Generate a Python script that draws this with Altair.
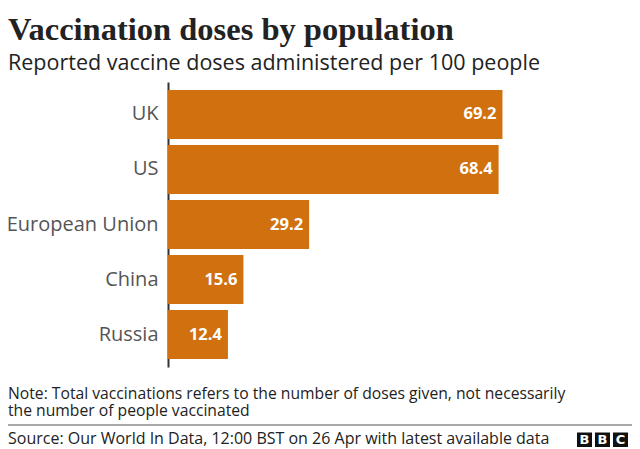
import altair as alt
import pandas as pd

countries = ["UK", "US", "European Union", "China", "Russia"]
doses = [69.2, 68.4, 29.2, 15.6, 12.4]
labels = ["69.2", "68.4", "29.2", "15.6", "12.4"]

title_text = "Vaccination doses by population"
subtitle_text = "Reported vaccine doses administered per 100 people"
note_lines = ["Note: Total vaccinations refers to the number of doses given, not necessarily",
              "the number of people vaccinated"]
source_text = "Source: Our World In Data, 12:00 BST on 26 Apr with latest available data"
logo_letters = ["B", "B", "C"]

df = pd.DataFrame({"country": countries, "doses": doses, "label": labels})

W, H = 348, 285
ORANGE = "#D1700E"
SANS = "Open Sans"

y_enc = alt.Y("country:N", sort=countries,
              scale=alt.Scale(paddingInner=0.11, paddingOuter=0.145),
              axis=alt.Axis(title=None, ticks=False, labelFontSize=20, labelColor="#555555",
                            labelFont=SANS, labelPadding=10, domainColor="#333333",
                            domainWidth=2, grid=False))
x_enc = alt.X("doses:Q", scale=alt.Scale(domain=[0, 72], nice=False), axis=None)

base = alt.Chart(df)
bars = base.mark_bar(color=ORANGE).encode(x=x_enc, y=y_enc)
vals = base.mark_text(align="right", baseline="middle", dx=-6, color="white",
                      fontWeight="bold", fontSize=16.5, font=SANS).encode(
    x=x_enc, y=alt.Y("country:N", sort=countries), text="label:N")

one = alt.Data(values=[{"a": 1}])

def txt(s, x, y, size, color="#222222", weight="normal", font=SANS, align="left"):
    return alt.Chart(one).mark_text(text=s, align=align, baseline="middle", fontSize=size,
                                    color=color, fontWeight=weight, font=font).encode(
        x=alt.value(x), y=alt.value(y))

title = txt(title_text, -160, -52, 32.5, "#222222", "bold", "Liberation Serif")
subtitle = txt(subtitle_text, -160, -18, 21.5)
note = alt.Chart(one).mark_text(text=note_lines, align="left", baseline="middle", fontSize=15.7,
                                lineHeight=17, color="#222222", font=SANS).encode(
    x=alt.value(-160), y=alt.value(312))
source = txt(source_text, -160, 357, 16)
rule = alt.Chart(one).mark_rule(color="#555555", strokeWidth=1).encode(
    x=alt.value(-168), x2=alt.value(472), y=alt.value(343))

logo_layers = []
for i, letter in enumerate(logo_letters):
    x0 = 409 + i * 18
    box = alt.Chart(one).mark_rect(color="#111111").encode(
        x=alt.value(x0), x2=alt.value(x0 + 15), y=alt.value(350.5), y2=alt.value(365))
    lt = txt(letter, x0 + 7.5, 358, 13, "white", "bold", "DejaVu Sans", "center")
    logo_layers += [box, lt]

chart = alt.layer(bars, vals, title, subtitle, note, rule, source, *logo_layers).properties(
    width=W, height=H,
    autosize=alt.AutoSizeParams(type="none"),
    padding={"left": 160, "top": 74, "right": 116, "bottom": 82},
    background="white",
).configure_view(stroke=None)

chart.save("out.html", embed_options={"renderer": "svg", "actions": False})
